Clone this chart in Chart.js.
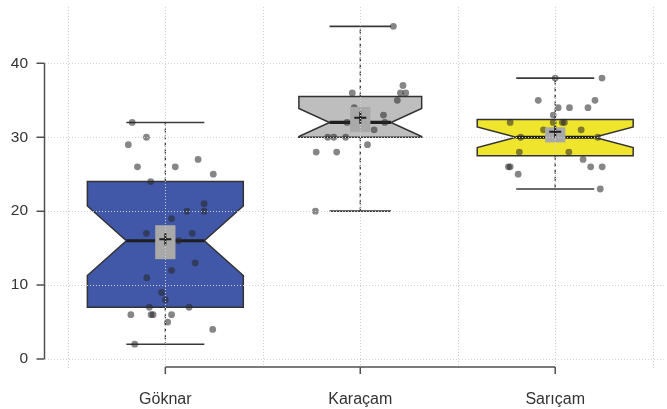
<!DOCTYPE html>
<html>
<head>
<meta charset="utf-8">
<script src="https://cdn.jsdelivr.net/npm/chart.js@4.4.1/dist/chart.umd.min.js"></script>
<style>
  html, body { margin: 0; padding: 0; background: #ffffff; }
  #wrap { width: 667px; height: 409px; }
</style>
</head>
<body>
<div id="wrap"><canvas id="c" width="667" height="409"></canvas></div>
<script>
// Tree species on the category axis
const species = ['Göknar', 'Karaçam', 'Sarıçam'];

// Individual observations per species, with horizontal jitter (category units)
const goknarValues = [32, 30, 29, 26, 26, 27, 25, 24, 21, 20, 20, 19, 17, 17, 16, 13, 12, 11, 9, 8, 7, 7, 6, 6, 6, 6, 5, 4, 2];
const goknarJitter = [-0.170, -0.097, -0.190, -0.143, 0.051, 0.168, 0.246, -0.075, 0.199, 0.111, 0.199, 0.032, -0.097, 0.138, 0.068, 0.153, 0.032, -0.095, -0.019, 0.000, -0.082, 0.122, -0.177, -0.073, -0.063, 0.032, 0.012, 0.243, -0.157];

const karacamValues = [45, 37, 36, 36, 36, 35, 34, 33, 32, 32, 31, 30, 30, 30, 29, 28, 28, 20];
const karacamJitter = [0.170, 0.219, -0.041, 0.206, 0.233, 0.190, -0.031, 0.119, -0.068, 0.126, 0.071, -0.167, -0.136, -0.075, 0.037, -0.226, -0.121, -0.230];

const saricamValues = [38, 38, 35, 35, 34, 34, 34, 33, 32, 32, 32, 32, 31, 31, 30, 30, 28, 28, 27, 26, 26, 26, 26, 25, 23];
const saricamJitter = [0.000, 0.240, -0.087, 0.204, 0.015, 0.073, 0.168, -0.010, -0.231, -0.010, 0.037, 0.047, -0.060, 0.133, -0.177, 0.218, -0.184, 0.070, 0.143, -0.240, -0.231, 0.182, 0.241, -0.190, 0.231];

// Box summary per species
const whiskerLow  = [2, 20, 23];
const q1          = [7, 30, 27.5];
const medians     = [16, 32, 30];
const q3          = [24, 35.5, 32.4];
const whiskerHigh = [32, 45, 38];
const notchLow    = [11.3, 30.1, 28.6];
const notchHigh   = [20.7, 33.9, 31.4];

// Mean and its interval
const means      = [16.2, 32.65, 30.75];
const meanCiLow  = [13.5, 30.7, 29.3];
const meanCiHigh = [18.1, 34.1, 31.35];

// Axis ticks
const yTicks = [0, 10, 20, 30, 40];
const xGridAt = [0.5, 1, 1.5, 2, 2.5, 3, 3.5];

// Styling
const boxFill = ['#4157a7', '#bebebe', '#efe52c'];
const boxWidth = [0.8, 0.63, 0.8];
const ciHalfWidth = 0.052;
const ink = '#333333';

const groups = [
  { values: goknarValues, jitter: goknarJitter },
  { values: karacamValues, jitter: karacamJitter },
  { values: saricamValues, jitter: saricamJitter }
];

const points = [];
groups.forEach((g, i) => {
  g.values.forEach((v, j) => points.push({ x: i + 1 + g.jitter[j], y: v }));
});

// keep the plot area fixed: no automatic label overflow padding
function noAutoPadding(s) {
  s.paddingTop = 0; s.paddingBottom = 0; s.paddingLeft = 0; s.paddingRight = 0;
}

const boxPlotPlugin = {
  id: 'notchedBoxes',
  beforeDatasetsDraw(chart) {
    const ctx = chart.ctx;
    const xs = chart.scales.x, ys = chart.scales.y;
    ctx.save();
    species.forEach((name, i) => {
      const c = i + 1;
      const hw = boxWidth[i] / 2;
      const L = xs.getPixelForValue(c - hw), R = xs.getPixelForValue(c + hw);
      const iL = xs.getPixelForValue(c - hw / 2), iR = xs.getPixelForValue(c + hw / 2);
      const cx = xs.getPixelForValue(c);
      const yQ1 = ys.getPixelForValue(q1[i]), yQ3 = ys.getPixelForValue(q3[i]);
      const yMed = ys.getPixelForValue(medians[i]);
      const yNl = ys.getPixelForValue(notchLow[i]), yNh = ys.getPixelForValue(notchHigh[i]);
      const yLo = ys.getPixelForValue(whiskerLow[i]), yHi = ys.getPixelForValue(whiskerHigh[i]);

      // whiskers
      ctx.strokeStyle = '#2a2a2a';
      ctx.lineWidth = 1.2;
      ctx.setLineDash([4, 3]);
      ctx.beginPath();
      ctx.moveTo(cx, yQ3); ctx.lineTo(cx, yHi);
      ctx.moveTo(cx, yQ1); ctx.lineTo(cx, yLo);
      ctx.stroke();
      ctx.setLineDash([]);

      // caps
      ctx.strokeStyle = '#3a3a3a';
      ctx.lineWidth = 1.6;
      ctx.beginPath();
      ctx.moveTo(iL, yHi); ctx.lineTo(iR, yHi);
      ctx.moveTo(iL, yLo); ctx.lineTo(iR, yLo);
      ctx.stroke();

      // notched box
      ctx.beginPath();
      ctx.moveTo(L, yQ3);
      ctx.lineTo(R, yQ3);
      ctx.lineTo(R, yNh);
      ctx.lineTo(iR, yMed);
      ctx.lineTo(R, yNl);
      ctx.lineTo(R, yQ1);
      ctx.lineTo(L, yQ1);
      ctx.lineTo(L, yNl);
      ctx.lineTo(iL, yMed);
      ctx.lineTo(L, yNh);
      ctx.closePath();
      ctx.fillStyle = boxFill[i];
      ctx.fill();
      ctx.strokeStyle = ink;
      ctx.lineWidth = 1.5;
      ctx.lineJoin = 'miter';
      ctx.stroke();

      // median
      ctx.strokeStyle = '#1e1e1e';
      ctx.lineWidth = 3.2;
      ctx.beginPath();
      ctx.moveTo(iL, yMed); ctx.lineTo(iR, yMed);
      ctx.stroke();
    });
    ctx.restore();
  },
  afterDatasetsDraw(chart) {
    const ctx = chart.ctx;
    const xs = chart.scales.x, ys = chart.scales.y;
    const area = chart.chartArea;
    ctx.save();

    // mean interval and mean marker
    species.forEach((name, i) => {
      const c = i + 1;
      const l = xs.getPixelForValue(c - ciHalfWidth), r = xs.getPixelForValue(c + ciHalfWidth);
      const t = ys.getPixelForValue(meanCiHigh[i]), b = ys.getPixelForValue(meanCiLow[i]);
      ctx.fillStyle = '#a9a9a9';
      ctx.fillRect(l, t, r - l, b - t);
      const mx = xs.getPixelForValue(c), my = ys.getPixelForValue(means[i]);
      ctx.strokeStyle = '#1e1e1e';
      ctx.lineWidth = 2;
      ctx.beginPath();
      ctx.moveTo(mx - 6, my); ctx.lineTo(mx + 6, my);
      ctx.moveTo(mx, my - 6); ctx.lineTo(mx, my + 6);
      ctx.stroke();
    });

    // dotted grid over the plot
    ctx.strokeStyle = '#d0d0d0';
    ctx.lineWidth = 1;
    ctx.setLineDash([1, 2]);
    ctx.beginPath();
    yTicks.forEach(v => {
      const y = Math.round(ys.getPixelForValue(v)) + 0.5;
      ctx.moveTo(area.left, y); ctx.lineTo(area.right, y);
    });
    xGridAt.forEach(v => {
      const x = Math.round(xs.getPixelForValue(v)) + 0.5;
      ctx.moveTo(x, area.top); ctx.lineTo(x, area.bottom);
    });
    ctx.stroke();
    ctx.setLineDash([]);

    // axis lines with ticks, spanning the tick range only
    ctx.strokeStyle = '#505050';
    ctx.lineWidth = 1.5;
    ctx.beginPath();
    const ax = area.left - 0.5;
    ctx.moveTo(ax, ys.getPixelForValue(yTicks[0]));
    ctx.lineTo(ax, ys.getPixelForValue(yTicks[yTicks.length - 1]));
    yTicks.forEach(v => {
      const y = ys.getPixelForValue(v);
      ctx.moveTo(ax - 8, y); ctx.lineTo(ax, y);
    });
    const ay = area.bottom - 1;
    ctx.moveTo(xs.getPixelForValue(1), ay);
    ctx.lineTo(xs.getPixelForValue(species.length), ay);
    species.forEach((n, i) => {
      const x = xs.getPixelForValue(i + 1);
      ctx.moveTo(x, ay); ctx.lineTo(x, ay + 7);
    });
    ctx.stroke();
    ctx.restore();
  }
};

new Chart(document.getElementById('c'), {
  type: 'scatter',
  data: {
    datasets: [{
      data: points,
      pointRadius: 3.4,
      pointHoverRadius: 3.4,
      pointBackgroundColor: 'rgba(40,40,40,0.56)',
      pointBorderWidth: 0
    }]
  },
  options: {
    responsive: false,
    animation: false,
    devicePixelRatio: 1,
    events: [],
    layout: { padding: { top: 7, left: 0, right: 0, bottom: 0 } },
    plugins: { legend: { display: false }, tooltip: { enabled: false } },
    scales: {
      x: {
        type: 'linear',
        min: 0.3827,
        max: 3.556,
        grid: { display: false, drawTicks: false },
        border: { display: false },
        afterBuildTicks: s => { s.ticks = species.map((n, i) => ({ value: i + 1 })); },
        afterFit: s => { s.height = 41; noAutoPadding(s); },
        ticks: {
          autoSkip: false,
          maxRotation: 0,
          padding: 22,
          color: '#333333',
          font: { family: 'Liberation Sans', size: 16 },
          callback: (v, idx) => species[idx]
        }
      },
      y: {
        min: -1.218,
        max: 47.62,
        grid: { display: false, drawTicks: false },
        border: { display: false },
        afterBuildTicks: s => { s.ticks = yTicks.map(v => ({ value: v })); },
        afterFit: s => { s.width = 45; noAutoPadding(s); },
        ticks: {
          padding: 17,
          color: '#333333',
          font: { family: 'Liberation Sans', size: 15.5 }
        }
      }
    }
  },
  plugins: [boxPlotPlugin]
});
</script>
</body>
</html>
